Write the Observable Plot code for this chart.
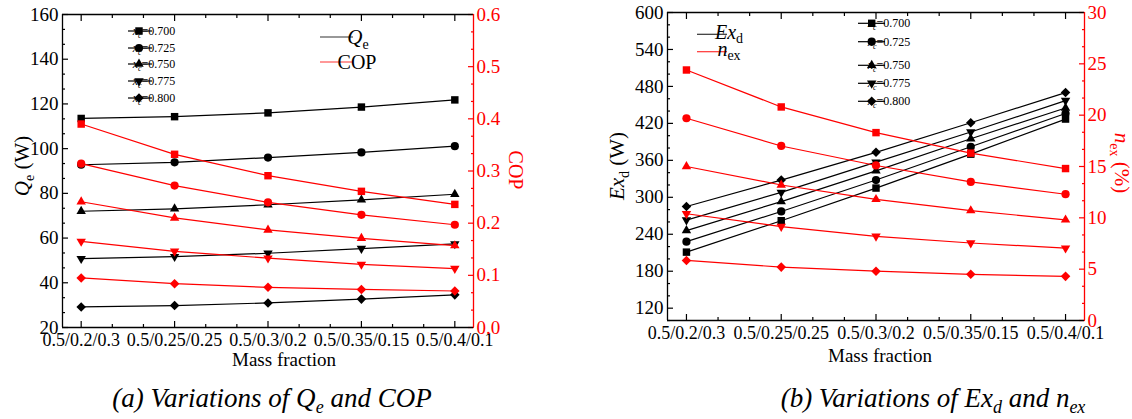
<!DOCTYPE html>
<html><head><meta charset="utf-8">
<script src="https://cdn.jsdelivr.net/npm/d3@7"></script>
<script src="https://cdn.jsdelivr.net/npm/@observablehq/plot@0.6"></script>
<style>
html,body{margin:0;padding:0;background:#fff;}
body{width:1132px;height:419px;overflow:hidden;position:relative;font-family:"Liberation Serif","Times New Roman",Times,Tinos,"Nimbus Roman","DejaVu Serif",serif;}
.panel{position:absolute;top:0;}
.cap{position:absolute;top:383px;font-style:italic;font-size:27px;line-height:30px;white-space:nowrap;transform:translateX(-50%);color:#000;}
.cap sub{font-size:18px;}
</style></head><body>
<div id="pa" class="panel" style="left:0px"></div>
<div id="pb" class="panel" style="left:600px"></div>
<div class="cap" style="left:272px">(a) Variations of Q<sub>e</sub> and COP</div>
<div class="cap" style="left:933px">(b) Variations of Ex<sub>d</sub> and n<sub>ex</sub></div>
<script>
// ---------- data ----------
const categories = ["0.5/0.2/0.3", "0.5/0.25/0.25", "0.5/0.3/0.2", "0.5/0.35/0.15", "0.5/0.4/0.1"];
const xcLabels = ["0.700", "0.725", "0.750", "0.775", "0.800"];

// (a) Qe (W)
const qe700 = [113.5, 114.3, 116.0, 118.6, 121.8];
const qe725 = [92.8, 93.9, 96.0, 98.3, 101.1];
const qe750 = [72.0, 73.1, 74.9, 77.1, 79.6];
const qe775 = [50.8, 51.7, 53.2, 55.3, 57.4];
const qe800 = [29.2, 29.8, 31.0, 32.7, 34.6];
// (a) COP
const cop700 = [0.390, 0.332, 0.291, 0.261, 0.236];
const cop725 = [0.314, 0.272, 0.240, 0.216, 0.197];
const cop750 = [0.241, 0.210, 0.187, 0.171, 0.157];
const cop775 = [0.165, 0.146, 0.133, 0.121, 0.113];
const cop800 = [0.095, 0.084, 0.077, 0.073, 0.070];

// (b) Ex_d (W)
const ex700 = [211, 262, 315, 370, 427];
const ex725 = [228, 277, 328, 382, 436];
const ex750 = [246, 293, 343, 395, 445];
const ex775 = [263, 308, 357, 406, 457];
const ex800 = [285, 328, 373, 421, 470];
// (b) n_ex (%)
const nex700 = [24.4, 20.8, 18.3, 16.3, 14.8];
const nex725 = [19.7, 17.0, 15.1, 13.5, 12.3];
const nex750 = [15.0, 13.2, 11.8, 10.7, 9.8];
const nex775 = [10.4, 9.15, 8.2, 7.55, 7.05];
const nex800 = [5.85, 5.2, 4.8, 4.5, 4.3];

// tick values
const qeTicks = [20, 40, 60, 80, 100, 120, 140, 160];
const copTicks = [0, 0.1, 0.2, 0.3, 0.4, 0.5, 0.6];
const exTicks = [120, 180, 240, 300, 360, 420, 480, 540, 600];
const nexTicks = [0, 5, 10, 15, 20, 25, 30];

// ---------- helpers ----------
const FONT = '"Liberation Serif", "Times New Roman", Times, Tinos, "Nimbus Roman", "DejaVu Serif", serif';
const triangleDown = {
  draw(context, size) {
    const y = -Math.sqrt(size / (Math.sqrt(3) * 3));
    context.moveTo(0, -y * 2);
    context.lineTo(-Math.sqrt(3) * y, y);
    context.lineTo(Math.sqrt(3) * y, y);
    context.closePath();
  }
};
const markerDefs = [
  {symbol: "square", d3s: d3.symbolSquare, r: 4.2},
  {symbol: "circle", d3s: d3.symbolCircle, r: 4.1},
  {symbol: "triangle", d3s: d3.symbolTriangle, r: 3.5},
  {symbol: triangleDown, d3s: triangleDown, r: 3.5},
  {symbol: "diamond2", d3s: d3.symbolDiamond2, r: 4.3}
];

function minorTicks(major) {
  const out = [];
  for (let i = 0; i < major.length - 1; i++) {
    const step = (major[i + 1] - major[i]) / 3;
    out.push(major[i] + step, major[i] + 2 * step);
  }
  return out;
}

function makePanel(cfg) {
  const xDomain = [0.8, 5.2];
  const xMajor = categories.map((c, i) => i + 1);
  const xMinor = [];
  for (let i = 1; i < xMajor.length; i++) xMinor.push(i + 1 / 3, i + 2 / 3);
  const [y0, y1] = cfg.yDomain;
  const [r0, r1] = cfg.rDomain;
  const toL = v => y0 + (v - r0) / (r1 - r0) * (y1 - y0);
  const fromL = v => r0 + (v - y0) / (y1 - y0) * (r1 - r0);

  const yMinor = minorTicks(cfg.yTicks).concat(cfg.yTicks[0] > y0 ? [cfg.yTicks[0] - (cfg.yTicks[1] - cfg.yTicks[0]) / 3] : []);
  const rMinor = minorTicks(cfg.rTicks);

  const marks = [];
  marks.push(Plot.axisX(xMajor, {anchor: "bottom", tickSize: -6, tickPadding: 12, tickFormat: i => categories[i - 1], fontSize: 18, label: null, strokeWidth: 1.2}));
  marks.push(Plot.axisX(xMinor, {anchor: "bottom", tickSize: -3, fill: "none", label: null, strokeWidth: 1.2}));
  marks.push(Plot.axisX(xMajor, {anchor: "top", tickSize: -6, fill: "none", label: null, strokeWidth: 1.2}));
  marks.push(Plot.axisX(xMinor, {anchor: "top", tickSize: -3, fill: "none", label: null, strokeWidth: 1.2}));
  marks.push(Plot.axisY(cfg.yTicks, {anchor: "left", tickSize: -6, tickPadding: 10, fontSize: 19, label: null, strokeWidth: 1.2}));
  marks.push(Plot.axisY(yMinor, {anchor: "left", tickSize: -3, fill: "none", label: null, strokeWidth: 1.2}));
  marks.push(Plot.axisY(cfg.rTicks.map(toL), {anchor: "right", tickSize: -6, tickPadding: 9, fontSize: 19, color: "#ff0000", tickFormat: v => cfg.rFmt(fromL(v)), label: null, strokeWidth: 1.2}));
  marks.push(Plot.axisY(rMinor.map(toL), {anchor: "right", tickSize: -3, fill: "none", stroke: "#ff0000", label: null, strokeWidth: 1.2}));
  marks.push(Plot.ruleY([y0, y1], {stroke: "black", strokeWidth: 1.3}));
  marks.push(Plot.ruleX([xDomain[0]], {stroke: "black", strokeWidth: 1.3}));
  marks.push(Plot.ruleX([xDomain[1]], {stroke: "#ff0000", strokeWidth: 1.3}));

  cfg.left.forEach((vals, k) => {
    const data = vals.map((v, i) => ({x: i + 1, y: v}));
    marks.push(Plot.line(data, {x: "x", y: "y", stroke: "black", strokeWidth: 1.2}));
    marks.push(Plot.dot(data, {x: "x", y: "y", symbol: markerDefs[k].symbol, r: markerDefs[k].r, fill: "black", stroke: "none"}));
  });
  cfg.right.forEach((vals, k) => {
    const data = vals.map((v, i) => ({x: i + 1, y: toL(v)}));
    marks.push(Plot.line(data, {x: "x", y: "y", stroke: "#ff0000", strokeWidth: 1.2}));
    marks.push(Plot.dot(data, {x: "x", y: "y", symbol: markerDefs[k].symbol, r: markerDefs[k].r, fill: "#ff0000", stroke: "none"}));
  });

  const svg = Plot.plot({
    width: cfg.width, height: cfg.height,
    marginLeft: cfg.ml, marginRight: cfg.mr, marginTop: cfg.mt, marginBottom: cfg.mb,
    x: {type: "linear", domain: xDomain, label: null},
    y: {type: "linear", domain: cfg.yDomain, label: null},
    style: {fontFamily: FONT, fontSize: "18px", color: "black", background: "transparent", overflow: "visible", maxWidth: "none"},
    marks
  });
  document.getElementById(cfg.el).appendChild(svg);
  return svg;
}

function addLegend(svg, rows, x0, x1, xm, xt) {
  const g = d3.select(svg).append("g");
  rows.forEach((yy, k) => {
    g.append("line").attr("x1", x0).attr("x2", x1).attr("y1", yy).attr("y2", yy).attr("stroke", "black").attr("stroke-width", 1.2);
    const r = markerDefs[k].r;
    g.append("path").attr("transform", `translate(${xm},${yy})`).attr("d", d3.symbol(markerDefs[k].d3s, Math.PI * r * r)()).attr("fill", "black");
    const t = g.append("text").attr("x", xt).attr("y", yy + 4).attr("font-family", FONT).attr("font-size", 12).attr("fill", "black");
    t.append("tspan").attr("font-style", "italic").text("x");
    t.append("tspan").attr("font-style", "italic").attr("font-size", 8).attr("dy", 3).text("c");
    t.append("tspan").attr("dy", -3).text("=" + xcLabels[k]);
  });
}

function subText(g, parts, attrs) {
  const t = g.append("text");
  Object.entries(attrs).forEach(([k, v]) => t.attr(k, v));
  parts.forEach(p => {
    const s = t.append("tspan").text(p.t);
    if (p.i) s.attr("font-style", "italic");
    if (p.sub) s.attr("font-size", p.fs || 14).attr("dy", p.dy || 5);
    if (p.up) s.attr("dy", -p.up);
  });
  return t;
}

// ---------- panel (a) ----------
const svgA = makePanel({
  el: "pa", width: 540, height: 372, ml: 62, mr: 67, mt: 14, mb: 45,
  yDomain: [20, 160], yTicks: qeTicks,
  rDomain: [0, 0.6], rTicks: copTicks, rFmt: v => v.toFixed(1),
  left: [qe700, qe725, qe750, qe775, qe800],
  right: [cop700, cop725, cop750, cop775, cop800]
});
{
  const g = d3.select(svgA).append("g");
  addLegend(svgA, [31, 48, 64, 81, 98], 128, 152, 139, 154);
  g.append("line").attr("x1", 320).attr("x2", 353).attr("y1", 37).attr("y2", 37).attr("stroke", "#333").attr("stroke-width", 1.2);
  g.append("line").attr("x1", 320).attr("x2", 353).attr("y1", 62).attr("y2", 62).attr("stroke", "#ff3333").attr("stroke-width", 1.2);
  subText(g, [{t: "Q", i: true}, {t: "e", sub: true, fs: 14, dy: 5}], {x: 358, y: 44, "font-family": FONT, "font-size": 21, fill: "black"});
  g.append("text").attr("x", 357).attr("y", 69).attr("font-family", FONT).attr("font-size", 20).text("COP");
  subText(g, [{t: "Q", i: true}, {t: "e", sub: true, fs: 14, dy: 5}, {t: " (W)", up: 5}],
    {transform: "translate(29,166) rotate(-90)", "text-anchor": "middle", "font-family": FONT, "font-size": 21, fill: "black"});
  g.append("text").attr("transform", "translate(509,170) rotate(90)").attr("text-anchor", "middle").attr("font-family", FONT).attr("font-size", 20).attr("fill", "#ff0000").text("COP");
  g.append("text").attr("x", 284).attr("y", 366).attr("text-anchor", "middle").attr("font-family", FONT).attr("font-size", 19).text("Mass fraction");
}

// ---------- panel (b) ----------
const svgB = makePanel({
  el: "pb", width: 532, height: 372, ml: 67, mr: 48, mt: 12, mb: 52,
  yDomain: [100, 600], yTicks: exTicks,
  rDomain: [0, 30], rTicks: nexTicks, rFmt: v => String(Math.round(v)),
  left: [ex700, ex725, ex750, ex775, ex800],
  right: [nex700, nex725, nex750, nex775, nex800]
});
{
  const g = d3.select(svgB).append("g");
  addLegend(svgB, [23.3, 41.7, 65.3, 83.3, 101.3], 258, 285, 271.7, 289);
  g.append("line").attr("x1", 97).attr("x2", 127).attr("y1", 34.3).attr("y2", 34.3).attr("stroke", "#333").attr("stroke-width", 1.2);
  g.append("line").attr("x1", 97).attr("x2", 127).attr("y1", 51.7).attr("y2", 51.7).attr("stroke", "#ff3333").attr("stroke-width", 1.2);
  subText(g, [{t: "Ex", i: true}, {t: "d", sub: true, fs: 14, dy: 4}], {x: 129, y: 39, "font-family": FONT, "font-size": 20, fill: "black"});
  subText(g, [{t: "n", i: true}, {t: "ex", sub: true, fs: 14, dy: 4}], {x: 129, y: 56, "font-family": FONT, "font-size": 20, fill: "black"});
  subText(g, [{t: "Ex", i: true}, {t: "d", sub: true, fs: 14, dy: 5}, {t: " (W)", up: 5}],
    {transform: "translate(24,166) rotate(-90)", "text-anchor": "middle", "font-family": FONT, "font-size": 21, fill: "black"});
  subText(g, [{t: "n", i: true}, {t: "ex", sub: true, fs: 14, dy: 5}, {t: " (%)", up: 5}],
    {transform: "translate(515,163) rotate(90)", "text-anchor": "middle", "font-family": FONT, "font-size": 21, fill: "#ff0000"});
  g.append("text").attr("x", 280).attr("y", 362).attr("text-anchor", "middle").attr("font-family", FONT).attr("font-size", 19).text("Mass fraction");
}
</script>
</body></html>
